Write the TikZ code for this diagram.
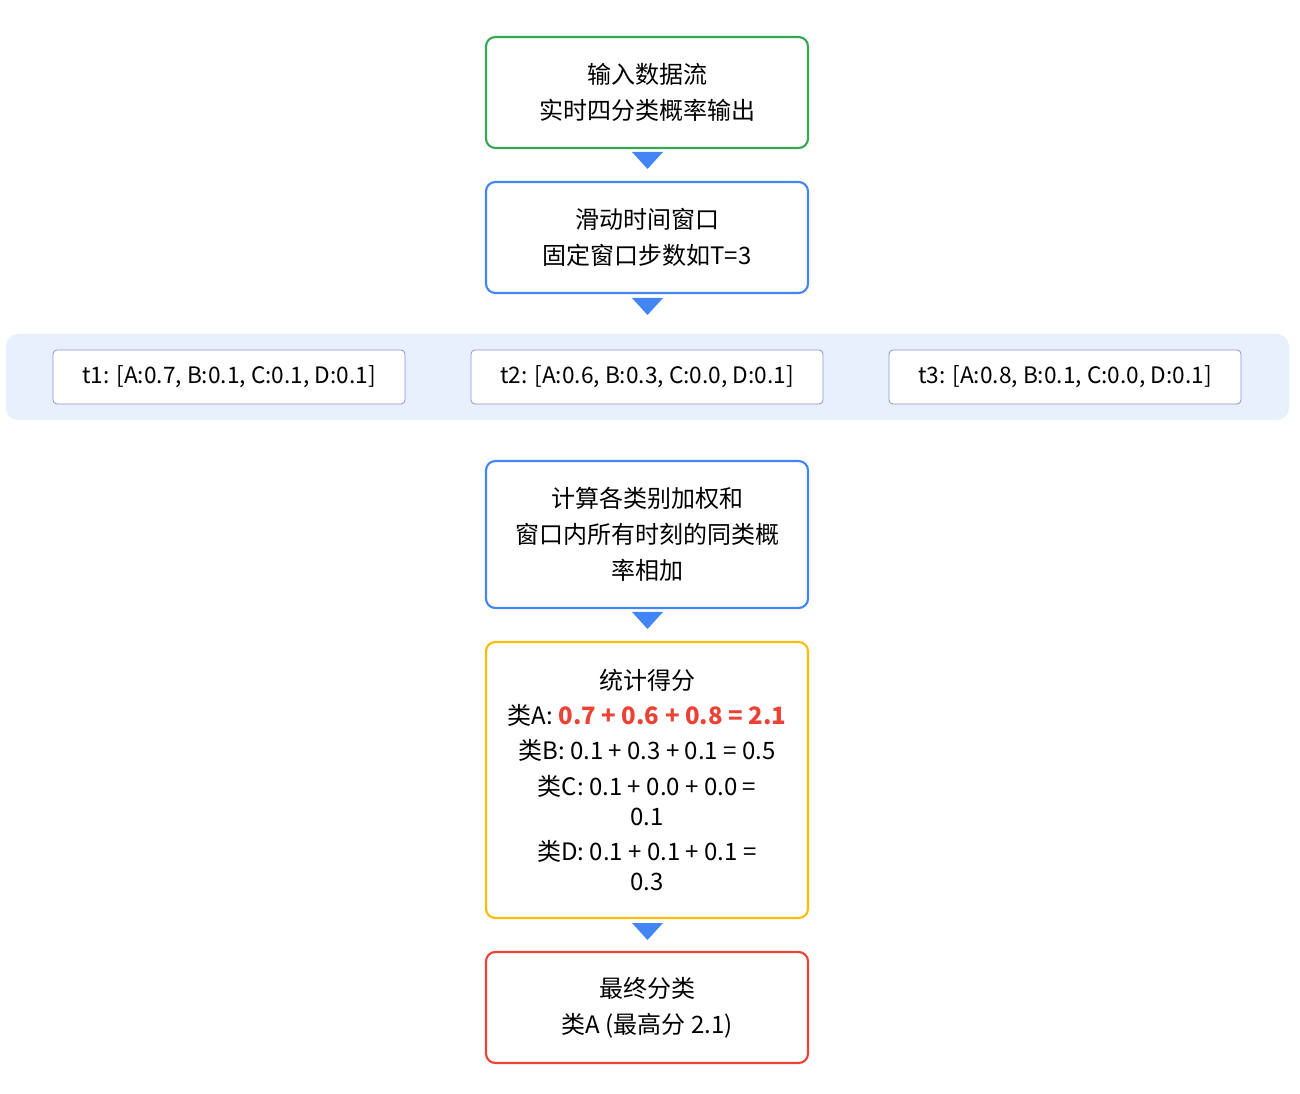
\documentclass[tikz,border=0pt]{standalone}
\usepackage{fontspec}
\setmainfont{Noto Sans CJK SC}
\begin{document}
\begin{tikzpicture}[x=0.75pt,y=-0.75pt,
  box/.style={draw=#1,line width=1.6pt,rounded corners=7pt,fill=white,align=center,font=\fontsize{18}{27}\selectfont},
  sm/.style={draw=blue!45!gray!60,line width=0.6pt,rounded corners=3pt,fill=white,font=\fontsize{17}{22}\selectfont},
  tri/.style={fill=gblue}]
\definecolor{ggreen}{HTML}{34A853}\definecolor{gblue}{HTML}{4285F4}
\definecolor{gyellow}{HTML}{FBBC05}\definecolor{gred}{HTML}{EA4335}\definecolor{band}{HTML}{E8F0FE}
\useasboundingbox (0,0) rectangle (1300,1094);
\fill[band,rounded corners=9pt] (6,334) rectangle (1289,420);
\node[box=ggreen,minimum width=322*0.75pt,minimum height=111*0.75pt] (a) at (647,92.5) {输入数据流\\实时四分类概率输出};
\node[box=gblue,minimum width=322*0.75pt,minimum height=111*0.75pt] (b) at (647,237.5) {滑动时间窗口\\固定窗口步数如T=3};
\node[sm,minimum width=352*0.75pt,minimum height=54*0.75pt] (t1) at (229,377) {t1: [A:0.7, B:0.1, C:0.1, D:0.1]};
\node[sm,minimum width=352*0.75pt,minimum height=54*0.75pt] (t2) at (647,377) {t2: [A:0.6, B:0.3, C:0.0, D:0.1]};
\node[sm,minimum width=352*0.75pt,minimum height=54*0.75pt] (t3) at (1065,377) {t3: [A:0.8, B:0.1, C:0.0, D:0.1]};
\node[box=gblue,minimum width=322*0.75pt,minimum height=147*0.75pt] (c) at (647,534.5) {计算各类别加权和\\窗口内所有时刻的同类概\\率相加};
\node[box=gyellow,minimum width=322*0.75pt,minimum height=276*0.75pt,font=\fontsize{18}{26.5}\selectfont] (d) at (647,780) {统计得分\\类A: \textcolor{gred}{\textbf{0.7 + 0.6 + 0.8 = 2.1}}\\类B: 0.1 + 0.3 + 0.1 = 0.5\\类C: 0.1 + 0.0 + 0.0 =\\[-4pt]0.1\\类D: 0.1 + 0.1 + 0.1 =\\[-4pt]0.3};
\node[box=gred,minimum width=322*0.75pt,minimum height=111*0.75pt] (e) at (647,1007.5) {最终分类\\类A (最高分 2.1)};
\foreach \y in {152,298,612,923}{\fill[gblue] (632,\y) -- (663,\y) -- (647.5,\y+17) -- cycle;}
\end{tikzpicture}
\end{document}
